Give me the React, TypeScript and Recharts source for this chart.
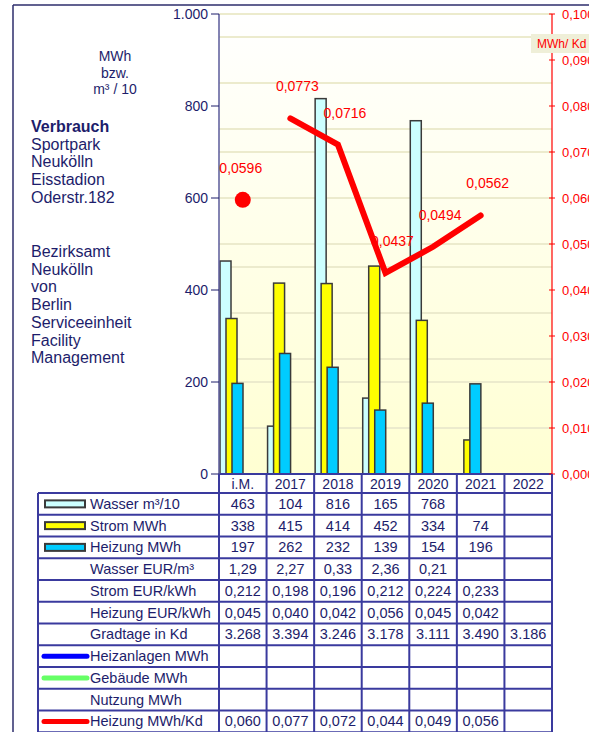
import React from "react";
import { ComposedChart, Bar, Line, XAxis, YAxis, CartesianGrid, LabelList } from "recharts";

const categories = ["i.M.", "2017", "2018", "2019", "2020", "2021", "2022"];
const wasser = [463, 104, 816, 165, 768, null, null];
const strom = [338, 415, 414, 452, 334, 74, null];
const heizung = [197, 262, 232, 139, 154, 196, null];
const wasserEur = [1.29, 2.27, 0.33, 2.36, 0.21, null, null];
const stromEur = [0.212, 0.198, 0.196, 0.212, 0.224, 0.233, null];
const heizungEur = [0.045, 0.04, 0.042, 0.056, 0.045, 0.042, null];
const gradtage = [3268, 3394, 3246, 3178, 3111, 3490, 3186];
const heizungProKd = [0.0596, 0.0773, 0.0716, 0.0437, 0.0494, 0.0562, null];

const leftTicks = [0, 200, 400, 600, 800, 1000];
const rightTicks = [0, 0.01, 0.02, 0.03, 0.04, 0.05, 0.06, 0.07, 0.08, 0.09, 0.1];
const gridValues = Array.from({ length: 21 }, (_, i) => i * 50);

const NAVY = "#1d1d6b";
const GRID_BLUE = "#3a3a9e";
const RED = "#ff0000";
const FONT = '"Liberation Sans", Arial, sans-serif';

const comma = (v: number | null, d: number) => (v == null ? "" : v.toFixed(d).replace(".", ","));
const thousands = (v: number | null) =>
  v == null ? "" : String(v).replace(/\B(?=(\d{3})+(?!\d))/g, ".");

// first value (i.M.) is a single dot, the years form the line
const data = categories.map((name, i) => ({
  name,
  wasser: wasser[i],
  strom: strom[i],
  heizung: heizung[i],
  kdIm: i === 0 ? heizungProKd[i] : null,
  kdYears: i > 0 ? heizungProKd[i] : null,
}));

type Swatch = { kind: "box" | "line"; color: string } | null;
const tableRows: { label: string; swatch: Swatch; values: string[] }[] = [
  { label: "Wasser m³/10", swatch: { kind: "box", color: "#ccffff" }, values: wasser.map((v) => (v == null ? "" : String(v))) },
  { label: "Strom MWh", swatch: { kind: "box", color: "#ffff00" }, values: strom.map((v) => (v == null ? "" : String(v))) },
  { label: "Heizung MWh", swatch: { kind: "box", color: "#00ccff" }, values: heizung.map((v) => (v == null ? "" : String(v))) },
  { label: "Wasser EUR/m³", swatch: null, values: wasserEur.map((v) => comma(v, 2)) },
  { label: "Strom EUR/kWh", swatch: null, values: stromEur.map((v) => comma(v, 3)) },
  { label: "Heizung EUR/kWh", swatch: null, values: heizungEur.map((v) => comma(v, 3)) },
  { label: "Gradtage in Kd", swatch: null, values: gradtage.map((v) => thousands(v)) },
  { label: "Heizanlagen MWh", swatch: { kind: "line", color: "#0000ff" }, values: categories.map(() => "") },
  { label: "Gebäude MWh", swatch: { kind: "line", color: "#66ff66" }, values: categories.map(() => "") },
  { label: "Nutzung MWh", swatch: null, values: categories.map(() => "") },
  { label: "Heizung MWh/Kd", swatch: { kind: "line", color: RED }, values: heizungProKd.map((v) => comma(v, 3)) },
];

const BAR_SHIFT = -11;
const barShape = (props: any) => {
  const { x, y, width, height, fill } = props;
  if (!height || height <= 0) return <g />;
  return (
    <rect x={x + BAR_SHIFT} y={y} width={width} height={height} fill={fill} stroke="#3a3a3a" strokeWidth={1.5} />
  );
};

const kdLabel = (dx: number) => (props: any) => {
  const { x, y, value } = props;
  if (value == null) return null;
  return (
    <text x={x + dx} y={y - 27} fill={RED} fontSize={14} fontFamily={FONT} textAnchor="middle">
      {comma(value, 4)}
    </text>
  );
};

const RightTick = (props: any) => {
  const { x, y, payload } = props;
  return (
    <g>
      <line x1={x - 13} x2={x - 7} y1={y} y2={y} stroke={RED} strokeWidth={1} />
      <text x={x} y={y} dy="0.35em" fill={RED} fontSize={13} fontFamily={FONT}>
        {comma(payload.value, 3)}
      </text>
    </g>
  );
};

const TABLE_LEFT = 38;
const PLOT_LEFT = 219;
const PLOT_RIGHT = 552;
const ROW_TOP = 493;
const ROW_H = 21.75;
const colW = (PLOT_RIGHT - PLOT_LEFT) / categories.length;

function Overlay() {
  const rowsBottom = ROW_TOP + tableRows.length * ROW_H;
  const infoTop = ["Sportpark", "Neukölln", "Eisstadion", "Oderstr.182"];
  const infoBottom = ["Bezirksamt", "Neukölln", "von", "Berlin", "Serviceeinheit", "Facility", "Management"];
  return (
    <svg width={589} height={732} style={{ position: "absolute", left: 0, top: 0, pointerEvents: "none" }} fontFamily={FONT}>
      {/* frame */}
      <line x1={13} x2={589} y1={5} y2={5} stroke="#2d2d6b" strokeWidth={1.5} />
      <line x1={13} x2={13} y1={5} y2={732} stroke="#2d2d6b" strokeWidth={1.5} />

      <g fill={NAVY} fontSize={14} textAnchor="middle">
        <text x={115} y={61}>MWh</text>
        <text x={115} y={78}>bzw.</text>
        <text x={115} y={94}>m³ / 10</text>
      </g>
      <g fill={NAVY} fontSize={16}>
        <text x={31} y={132} fontWeight="bold">Verbrauch</text>
        {infoTop.map((t, i) => (
          <text key={t} x={31} y={149.7 + i * 17.7}>{t}</text>
        ))}
        {infoBottom.map((t, i) => (
          <text key={t + i} x={31} y={257 + i * 17.7}>{t}</text>
        ))}
      </g>

      {/* unit box on the right axis */}
      <rect x={531} y={34} width={60} height={19} fill="#efefd8" />
      <text x={537} y={48} fill={RED} fontSize={12}>MWh/ Kd</text>

      {/* data table */}
      <g stroke={GRID_BLUE} strokeWidth={2}>
        {tableRows.map((_, r) => (
          <line key={"h" + r} x1={TABLE_LEFT} x2={PLOT_RIGHT} y1={ROW_TOP + r * ROW_H} y2={ROW_TOP + r * ROW_H} />
        ))}
        <line x1={TABLE_LEFT} x2={PLOT_RIGHT} y1={rowsBottom} y2={rowsBottom} />
        <line x1={TABLE_LEFT} x2={TABLE_LEFT} y1={ROW_TOP} y2={rowsBottom} />
        {categories.map((c, i) => (
          <line key={"v" + c} x1={PLOT_LEFT + i * colW} x2={PLOT_LEFT + i * colW} y1={474} y2={rowsBottom} />
        ))}
        <line x1={PLOT_RIGHT} x2={PLOT_RIGHT} y1={474} y2={rowsBottom} />
      </g>
      {tableRows.map((row, r) => {
        const top = ROW_TOP + r * ROW_H;
        const mid = top + ROW_H / 2;
        return (
          <g key={row.label}>
            {row.swatch && row.swatch.kind === "box" && (
              <rect x={45} y={mid - 3.5} width={40} height={7} fill={row.swatch.color} stroke="#3a3a3a" strokeWidth={2} />
            )}
            {row.swatch && row.swatch.kind === "line" && (
              <line x1={44} x2={87} y1={mid} y2={mid} stroke={row.swatch.color} strokeWidth={5} strokeLinecap="round" />
            )}
            <text x={90} y={mid + 5} fill={NAVY} fontSize={14.5}>{row.label}</text>
            {row.values.map((v, i) => (
              <text key={i} x={PLOT_LEFT + (i + 0.5) * colW} y={mid + 5} fill={NAVY} fontSize={14.5} textAnchor="middle">
                {v}
              </text>
            ))}
          </g>
        );
      })}
    </svg>
  );
}

export default function App() {
  return (
    <div style={{ position: "absolute", left: 0, top: 0, width: 589, height: 732, overflow: "hidden", background: "#fff" }}>
      <ComposedChart
        width={589}
        height={732}
        data={data}
        margin={{ top: 14, right: 0, bottom: 239, left: 159 }}
        barGap={-5}
        barSize={11}
        style={{ fontFamily: FONT }}
      >
        <defs>
          <linearGradient id="plotBg" x1="0" y1="0" x2="0" y2="1">
            <stop offset="0%" stopColor="#ffffff" />
            <stop offset="100%" stopColor="#ffffd2" />
          </linearGradient>
        </defs>
        <CartesianGrid
          vertical={false}
          horizontalValues={gridValues}
          stroke="#ecebcd"
          strokeWidth={2}
          fill="url(#plotBg)"
          fillOpacity={1}
        />
        <XAxis
          dataKey="name"
          interval={0}
          height={19}
          tickSize={0}
          tickMargin={5}
          tickLine={false}
          axisLine={{ stroke: GRID_BLUE, strokeWidth: 2 }}
          tick={{ fill: NAVY, fontSize: 14 }}
        />
        <YAxis
          width={60}
          domain={[0, 1000]}
          ticks={leftTicks}
          tickFormatter={(v: number) => thousands(v)}
          tick={{ fill: NAVY, fontSize: 14 }}
          tickSize={8}
          tickMargin={3}
          tickLine={{ stroke: NAVY }}
          axisLine={{ stroke: "#5a5a9a", strokeWidth: 1.5 }}
        />
        <YAxis
          yAxisId="right"
          orientation="right"
          width={37}
          domain={[0, 0.1]}
          ticks={rightTicks}
          tickSize={0}
          tickMargin={10}
          tickLine={false}
          tick={<RightTick />}
          axisLine={{ stroke: RED, strokeWidth: 1.2 }}
        />
        <Bar dataKey="wasser" fill="#ccffff" shape={barShape} isAnimationActive={false} />
        <Bar dataKey="strom" fill="#ffff00" shape={barShape} isAnimationActive={false} />
        <Bar dataKey="heizung" fill="#00ccff" shape={barShape} isAnimationActive={false} />
        <Line
          yAxisId="right"
          dataKey="kdIm"
          stroke="none"
          dot={{ r: 8, fill: RED, stroke: "none" }}
          activeDot={false}
          isAnimationActive={false}
        >
          <LabelList dataKey="kdIm" content={kdLabel(-2)} />
        </Line>
        <Line
          yAxisId="right"
          dataKey="kdYears"
          stroke={RED}
          strokeWidth={6}
          strokeLinecap="round"
          dot={false}
          activeDot={false}
          isAnimationActive={false}
        >
          <LabelList dataKey="kdYears" content={kdLabel(7)} />
        </Line>
      </ComposedChart>
      <Overlay />
    </div>
  );
}
